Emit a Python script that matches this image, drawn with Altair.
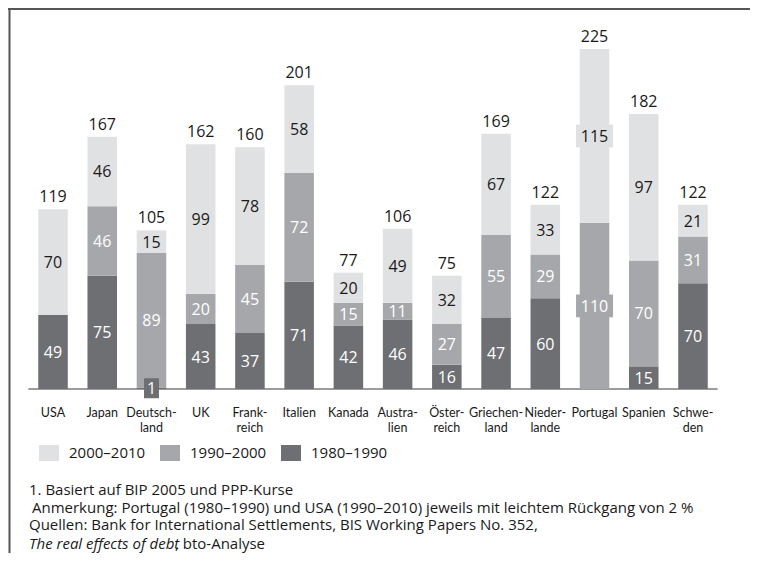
import altair as alt
import pandas as pd

# ---- data ----
countries = ["USA", "Japan", "Deutschland", "UK", "Frankreich", "Italien", "Kanada",
             "Australien", "Österreich", "Griechenland", "Niederlande", "Portugal",
             "Spanien", "Schweden"]
axis_labels = ["USA", "Japan", "Deutsch-|land", "UK", "Frank-|reich", "Italien", "Kanada",
               "Austra-|lien", "Öster-|reich", "Griechen-|land", "Nieder-|lande", "Portugal",
               "Spanien", "Schwe-|den"]
v1980 = [49, 75, 1, 43, 37, 71, 42, 46, 16, 47, 60, 0, 15, 70]
v1990 = [0, 46, 89, 20, 45, 72, 15, 11, 27, 55, 29, 110, 70, 31]
v2000 = [70, 46, 15, 99, 78, 58, 20, 49, 32, 67, 33, 115, 97, 21]
totals = [119, 167, 105, 162, 160, 201, 77, 106, 75, 169, 122, 225, 182, 122]
periods = ["2000–2010", "1990–2000", "1980–1990"]
colors = ["#e0e1e3", "#a6a7aa", "#6e6f72"]
boxed_wide = [("Portugal", "1990–2000"), ("Portugal", "2000–2010")]
boxed_narrow = [("Deutschland", "1980–1990")]
footnotes = [
    "1. Basiert auf BIP 2005 und PPP-Kurse",
    "Anmerkung: Portugal (1980–1990) und USA (1990–2010) jeweils mit leichtem Rückgang von 2 %",
    "Quellen: Bank for International Settlements, BIS Working Papers No. 352,",
]
footnote_italic = "The real effects of debt"
footnote_rest = ", bto-Analyse"

# ---- tables ----
rows = []
for i, c in enumerate(countries):
    start = 0
    for p, vals in [("1980–1990", v1980), ("1990–2000", v1990), ("2000–2010", v2000)]:
        v = vals[i]
        rows.append(dict(label=axis_labels[i], country=c, period=p, value=v,
                         start=start, end=start + v, mid=start + v / 2,
                         wide=(c, p) in boxed_wide, narrow=(c, p) in boxed_narrow))
        start += v
df = pd.DataFrame(rows)
df_lab = df[df["value"] > 0]
df_tot = pd.DataFrame({"label": axis_labels, "total": totals})

# ---- layout ----
W, H = 742, 545
BASE = 381.0      # pixel row of the zero line
K = 1.511         # pixels per unit
X0, X1 = 20.4, 709.6
yscale = alt.Scale(domain=[-(H - BASE) / K, BASE / K], nice=False, zero=False)
xscale = alt.Scale(range=[X0, X1], paddingInner=0.4, paddingOuter=0.2)

NUMFONT = "Open Sans"
AXFONT = "Lato"
INK = "#1a1a1a"

xenc = alt.X("label:N", sort=axis_labels, scale=xscale, axis=None)

baseline = alt.Chart(pd.DataFrame({"zero": [0]})).mark_rule(
    color="#9c9c9c", strokeWidth=2).encode(
    y=alt.Y("zero:Q", scale=yscale, axis=None), x=alt.value(X0), x2=alt.value(X1))

bars = alt.Chart(df).mark_bar().encode(
    x=xenc,
    y=alt.Y("end:Q", scale=yscale, axis=None),
    y2="start:Q",
    color=alt.Color("period:N", scale=alt.Scale(domain=periods, range=colors),
                    legend=alt.Legend(orient="none", legendX=31, legendY=435,
                                      direction="horizontal", title=None,
                                      symbolType="M-1,-0.8L1,-0.8L1,0.8L-1,0.8Z",
                                      symbolSize=400, symbolStrokeWidth=0, symbolOpacity=1,
                                      labelFont=NUMFONT, labelFontSize=15, labelColor=INK,
                                      labelOffset=10, columnPadding=14, padding=0)),
)

fill_scale = alt.Scale(domain=periods, range=colors)
box_wide = alt.Chart(df[df["wide"]]).mark_point(
    shape="M-1,-0.62L1,-0.62L1,0.62L-1,0.62Z", size=1369, filled=True, opacity=1,
    strokeWidth=0).encode(
    x=xenc, y=alt.Y("mid:Q", scale=yscale, axis=None),
    fill=alt.Fill("period:N", scale=fill_scale, legend=None))
box_narrow = alt.Chart(df[df["narrow"]]).mark_point(
    shape="M-0.75,-1L0.75,-1L0.75,1L-0.75,1Z", size=400, filled=True, opacity=1,
    strokeWidth=0).encode(
    x=xenc, y=alt.Y("mid:Q", scale=yscale, axis=None),
    fill=alt.Fill("period:N", scale=fill_scale, legend=None))

seg_labels = alt.Chart(df_lab).mark_text(font=NUMFONT, fontSize=16, baseline="middle",
                                         align="center", dy=1).encode(
    x=xenc, y=alt.Y("mid:Q", scale=yscale, axis=None), text="value:Q",
    color=alt.condition("datum.period === '2000–2010'", alt.value(INK), alt.value("#ffffff")))

tot_labels = alt.Chart(df_tot).mark_text(font=NUMFONT, fontSize=16, baseline="middle",
                                         align="center", dy=-12, color=INK).encode(
    x=xenc, y=alt.Y("total:Q", scale=yscale, axis=None), text="total:Q")

x_labels = alt.Chart(df_tot).mark_text(font=AXFONT, fontSize=12.5, baseline="top",
                                       align="center", lineBreak="|", lineHeight=15,
                                       color=INK).encode(
    x=xenc, y=alt.value(399), text="label:N")

one = pd.DataFrame({"a": [0]})
frame_left = alt.Chart(one).mark_rule(color="#555555", strokeWidth=2).encode(
    x=alt.value(1.5), y=alt.value(0), y2=alt.value(H))
frame_top = alt.Chart(one).mark_rule(color="#555555", strokeWidth=2).encode(
    x=alt.value(0), x2=alt.value(W), y=alt.value(1))

FS = 15
note_layers = []
note_y = [482, 499.5, 517]
note_x = [21, 24, 21]
for t, yy, xx in zip(footnotes, note_y, note_x):
    note_layers.append(alt.Chart(pd.DataFrame({"t": [t]})).mark_text(
        font=NUMFONT, fontSize=FS, align="left", baseline="middle", color=INK).encode(
        text="t:N", x=alt.value(xx), y=alt.value(yy)))
note_layers.append(alt.Chart(pd.DataFrame({"t": [footnote_italic]})).mark_text(
    font=NUMFONT, fontSize=FS, fontStyle="italic", align="left", baseline="middle",
    color=INK).encode(text="t:N", x=alt.value(21), y=alt.value(535.5)))
note_layers.append(alt.Chart(pd.DataFrame({"t": [footnote_rest]})).mark_text(
    font=NUMFONT, fontSize=FS, align="left", baseline="middle", color=INK).encode(
    text="t:N", x=alt.value(167), y=alt.value(535.5)))

chart = alt.layer(baseline, bars, box_wide, box_narrow, seg_labels, tot_labels, x_labels,
                  frame_left, frame_top, *note_layers).properties(
    width=W, height=H, padding=0, autosize=alt.AutoSizeParams(type="none")
).configure_view(stroke=None, strokeWidth=0)

chart.save("out.html", embed_options={"renderer": "svg", "actions": False})
